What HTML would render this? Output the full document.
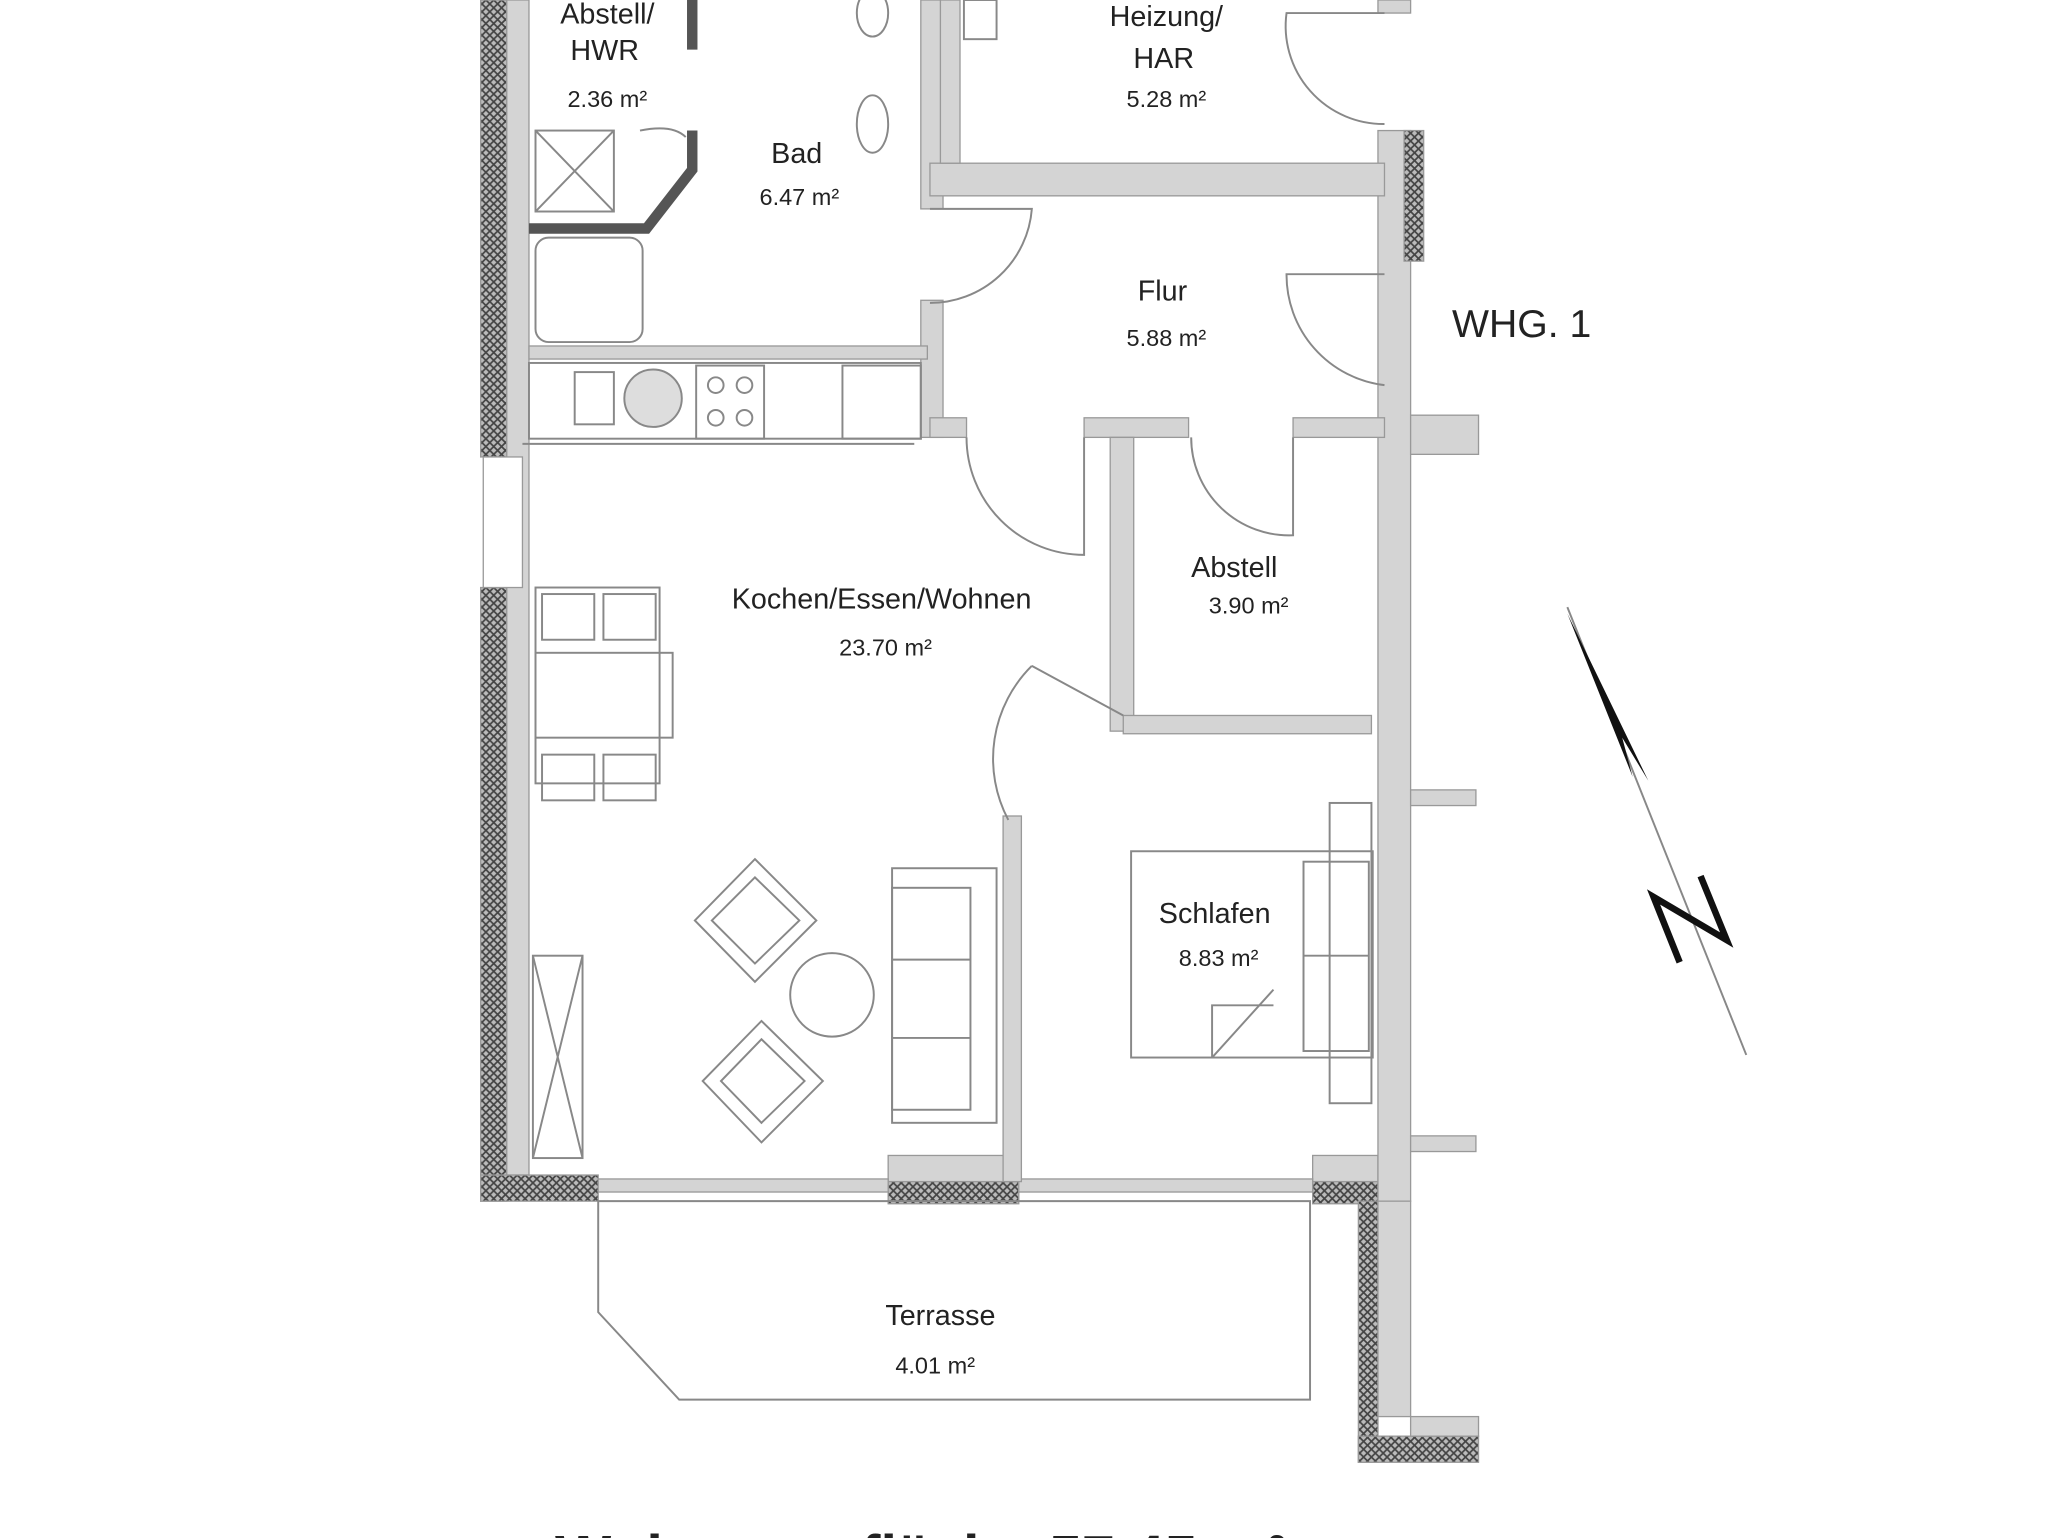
<!DOCTYPE html>
<html><head><meta charset="utf-8"><style>
html,body{margin:0;padding:0;background:#fff;width:2048px;height:1538px;overflow:hidden}
svg{display:block}
text{font-family:"Liberation Sans",sans-serif;fill:#222;text-anchor:middle}
</style></head><body>
<svg width="2048" height="1538" viewBox="0 0 1568 1178" preserveAspectRatio="none" xmlns="http://www.w3.org/2000/svg">
<defs>
<pattern id="h" width="6" height="6" patternUnits="userSpaceOnUse">
<rect width="6" height="6" fill="#bbb"/><path d="M0 0L6 6M6 0L0 6" stroke="#444" stroke-width="1.3"/>
</pattern>
</defs>
<rect width="1568" height="1178" fill="#fff"/>
<g fill="#d4d4d4" stroke="#999" stroke-width="1">
<rect x="368" y="0" width="20" height="350" fill="url(#h)"/>
<rect x="368" y="450" width="20" height="470" fill="url(#h)"/>
<rect x="388" y="0" width="17" height="900"/>
<rect x="370" y="350" width="30" height="100" fill="#fff"/>
<rect x="368" y="900" width="90" height="20" fill="url(#h)"/>
<rect x="680" y="885" width="100" height="35" fill="#d4d4d4"/>
<rect x="680" y="905" width="100" height="17" fill="url(#h)"/>
<rect x="1005" y="885" width="50" height="35"/>
<rect x="1005" y="905" width="50" height="17" fill="url(#h)"/>
<rect x="458" y="903" width="222" height="10"/>
<rect x="780" y="903" width="225" height="10"/>
<rect x="1055" y="100" width="25" height="820"/>
<rect x="1075" y="100" width="15" height="100" fill="url(#h)"/>
<rect x="1040" y="920" width="15" height="200" fill="url(#h)"/>
<rect x="1055" y="920" width="25" height="165"/>
<rect x="1040" y="1100" width="92" height="20" fill="url(#h)"/>
<rect x="1080" y="1085" width="52" height="15"/>
<rect x="1080" y="318" width="52" height="30"/>
<rect x="1080" y="605" width="50" height="12"/>
<rect x="1080" y="870" width="50" height="12"/>
<rect x="705" y="0" width="17" height="160"/>
<rect x="705" y="230" width="17" height="105"/>
<rect x="405" y="265" width="305" height="10"/>
<rect x="712" y="125" width="348" height="25"/>
<rect x="1055" y="0" width="25" height="10"/>
<rect x="712" y="320" width="28" height="15"/>
<rect x="830" y="320" width="80" height="15"/>
<rect x="990" y="320" width="70" height="15"/>
<rect x="850" y="335" width="18" height="225"/>
<rect x="860" y="548" width="190" height="14"/>
<rect x="768" y="625" width="14" height="280"/>
<rect x="720" y="0" width="15" height="125"/>
</g>
<g fill="none" stroke="#555" stroke-width="8">
<path d="M530 0V38"/><path d="M530 100V130L495 175H405"/>
</g>
<g fill="none" stroke="#888" stroke-width="1.5">
<rect x="410" y="100" width="60" height="62"/><path d="M410 100L470 162M470 100L410 162"/>
<rect x="410" y="182" width="82" height="80" rx="10"/>
<path d="M490 100 Q515 95 525 105"/>
<ellipse cx="668" cy="10" rx="12" ry="18"/><ellipse cx="668" cy="95" rx="12" ry="22"/>
<rect x="738" y="0" width="25" height="30"/>
<rect x="405" y="278" width="300" height="58"/>
<rect x="440" y="285" width="30" height="40"/><circle cx="500" cy="305" r="22" fill="#ddd"/>
<rect x="533" y="280" width="52" height="56"/><circle cx="548" cy="295" r="6"/><circle cx="570" cy="295" r="6"/><circle cx="548" cy="320" r="6"/><circle cx="570" cy="320" r="6"/>
<rect x="645" y="280" width="60" height="56"/>
<path d="M712 160 H790 A78 78 0 0 1 712 232"/>
<path d="M1060 10 H985 A75 75 0 0 0 1060 95"/>
<path d="M1060 210 H985 A85 85 0 0 0 1060 295"/>
<path d="M830 335 V425 A90 90 0 0 1 740 335"/>
<path d="M990 335 V410 A75 75 0 0 1 912 335"/>
<path d="M790 510 L860 548 M790 510 A100 100 0 0 0 772 628"/>
<rect x="410" y="450" width="95" height="150"/><rect x="410" y="500" width="105" height="65"/>
<rect x="415" y="455" width="40" height="35"/><rect x="462" y="455" width="40" height="35"/>
<rect x="415" y="578" width="40" height="35"/><rect x="462" y="578" width="40" height="35"/>
<rect x="408" y="732" width="38" height="155"/><path d="M408 732L446 887M446 732L408 887"/>
<rect x="683" y="665" width="80" height="195"/><rect x="683" y="680" width="60" height="170"/><path d="M683 735H743M683 795H743"/>
<circle cx="637" cy="762" r="32"/>
<path d="M578 658L625 705L578 752L532 705Z"/><path d="M578 672L612 705L578 738L545 705Z"/>
<path d="M583 782L630 828L583 875L538 828Z"/><path d="M583 796L616 828L583 860L552 828Z"/>
<rect x="866" y="652" width="185" height="158"/><rect x="998" y="660" width="50" height="145"/><path d="M998 732H1048"/>
<rect x="1018" y="615" width="32" height="230"/>
<path d="M928 810L975 758"/><path d="M928 810V770H975"/>
<path d="M458 920H1003V1072H520L458 1005Z"/>
<path d="M400 340H700"/>
</g>
<line x1="1200" y1="465" x2="1337" y2="808" stroke="#888" stroke-width="1.5"/>
<path d="M1200 470L1250 595L1242 565L1262 598Z" fill="#111"/>
<path d="M1286 737L1266 687L1322 720L1302 671" fill="none" stroke="#111" stroke-width="5" stroke-linejoin="miter"/>
<g font-size="22">
<text x="465" y="18">Abstell/</text><text x="463" y="46">HWR</text><text x="465" y="82" font-size="18">2.36 m²</text>
<text x="610" y="125">Bad</text><text x="612" y="157" font-size="18">6.47 m²</text>
<text x="893" y="20">Heizung/</text><text x="891" y="52">HAR</text><text x="893" y="82" font-size="18">5.28 m²</text>
<text x="890" y="230">Flur</text><text x="893" y="265" font-size="18">5.88 m²</text>
<text x="1165" y="258" font-size="30">WHG. 1</text>
<text x="675" y="466">Kochen/Essen/Wohnen</text><text x="678" y="502" font-size="18">23.70 m²</text>
<text x="945" y="442">Abstell</text><text x="956" y="470" font-size="18">3.90 m²</text>
<text x="930" y="707">Schlafen</text><text x="933" y="740" font-size="18">8.83 m²</text>
<text x="720" y="1015">Terrasse</text><text x="716" y="1052" font-size="18">4.01 m²</text>
<text x="425" y="1215" font-size="56" font-weight="bold" fill="#111" style="text-anchor:start" textLength="560" lengthAdjust="spacingAndGlyphs">Wohnungsfläche 57.45 m²</text>
</g>
</svg>
</body></html>
